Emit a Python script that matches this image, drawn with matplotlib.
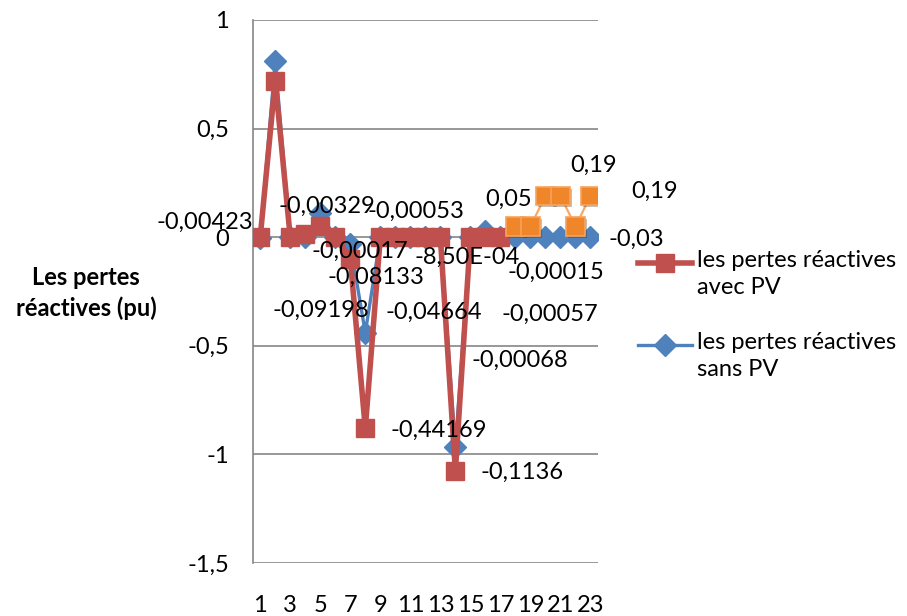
import numpy as np
import matplotlib
matplotlib.use("Agg")
import matplotlib.pyplot as plt
import matplotlib.patheffects as pe
from matplotlib.lines import Line2D

plt.rcParams['font.family'] = ['Lato', 'DejaVu Sans']

# Bus index
categories = list(range(1, 24))
tick_labels = [str(c) if c % 2 == 1 else "" for c in categories]

# Reactive losses with PV (buses 1-17)
avec_pv = [0.0, 0.72, 0.0, 0.015, 0.05, 0.0, -0.1, -0.88, 0.0, 0.0, 0.0, 0.0,
           0.0, -1.075, 0.0, 0.0, 0.0] + [np.nan] * 6
# Reactive losses with PV (buses 18-23)
avec_pv_fin = [np.nan] * 17 + [0.05, 0.05, 0.19, 0.19, 0.05, 0.19]
# Reactive losses without PV
sans_pv = [-0.004, 0.81, 0.0, 0.0, 0.11, 0.0, -0.03, -0.44, 0.0, 0.0, 0.0, 0.0,
           0.0, -0.965, 0.0, 0.03, 0.0, 0.0, 0.0, 0.0, 0.0, 0.0, 0.0]

# Data label texts
label_texts = ["-0,00423", "-0,00329", "-0,00053", "-0,00017", "-0,08133",
               "-0,09198", "-0,04664", "-8,50E-04", "-0,00015", "-0,00057",
               "-0,00068", "-0,44169", "-0,1136", "-0,03", "0,05", "0,19", "0,19"]
# Label anchor points (category, value)
label_pos = [(-2.68, 0.070), (5.45, 0.144), (11.37, 0.117), (7.64, -0.063),
             (8.71, -0.183), (5.05, -0.335), (12.57, -0.348), (14.77, -0.095),
             (20.69, -0.160), (20.29, -0.353), (18.30, -0.566), (12.90, -0.888),
             (18.43, -1.082), (26.02, -0.008), (17.56, 0.172), (23.22, 0.329),
             (27.28, 0.212)]

W, H = 907, 616
fig = plt.figure(figsize=(W / 100, H / 100), dpi=100)
ax = fig.add_axes([252.7 / W, 1 - 563 / H, (598 - 252.7) / W, (563 - 20) / H])

red = "#C0504D"
blue = "#4F81BD"
orange = "#F79646"
FS = 17

x = np.array(categories)
ax.plot(x, sans_pv, color=blue, lw=2.4, marker="D", ms=11.5, mfc=blue, mec=blue,
        zorder=3)
ax.plot(x, avec_pv, color=red, lw=4.0, marker="s", ms=13.5, mfc=red, mec=red,
        zorder=4)
ax.plot(x, avec_pv_fin, color="#F9A866", lw=1.6, zorder=5)
ax.plot(x, avec_pv_fin, ls="none", marker="s", ms=13.5,
        mfc="#F0862A", mec="#F7A35C", mew=1.2, zorder=5,
        path_effects=[pe.SimplePatchShadow(offset=(1.5, -1.5), alpha=0.3),
                      pe.Normal()])

ax.set_xlim(0.5, 23.5)
ax.set_ylim(-1.5, 1.0)
ax.set_yticks([1, 0.5, 0, -0.5, -1, -1.5])
ax.set_yticklabels(["1", "0,5", "0", "-0,5", "-1", "-1,5"], fontsize=FS)
ax.set_xticks(x)
ax.set_xticklabels(tick_labels, fontsize=FS)
ax.tick_params(axis="y", length=0, pad=17)
ax.tick_params(axis="x", length=0, pad=23)

ax.grid(axis="y", color="#868686", lw=1.2)
ax.set_axisbelow(True)
for side in ["top", "right", "bottom"]:
    ax.spines[side].set_visible(False)
ax.spines["left"].set_color("#868686")
ax.spines["left"].set_linewidth(1.2)

for txt, (px, py) in zip(label_texts, label_pos):
    ax.text(px, py, txt, fontsize=FS, ha="center", va="center",
            clip_on=False, zorder=6)

fig.text(86 / W, 1 - 293 / H, "Les pertes\nréactives (pu)", fontsize=17,
         fontweight="bold", ha="center", va="center", linespacing=1.35)

# Legend, drawn with the handle beside the first text line
legend_rows = [(263, red, 4.0, "s", 13.5, "les pertes réactives\navec PV"),
               (345, blue, 2.4, "D", 11.5, "les pertes réactives\nsans PV")]
for py, col, lw, mk, ms, txt in legend_rows:
    yy = 1 - py / H
    fig.add_artist(Line2D([638 / W, 692 / W], [yy, yy], color=col, lw=lw,
                          transform=fig.transFigure))
    fig.add_artist(Line2D([665 / W], [yy], color=col, marker=mk, ms=ms,
                          transform=fig.transFigure))
    fig.text(697 / W, 1 - (py - 13) / H, txt, fontsize=FS, ha="left",
             va="top", linespacing=1.35)

fig.savefig("out.png", dpi=100)
